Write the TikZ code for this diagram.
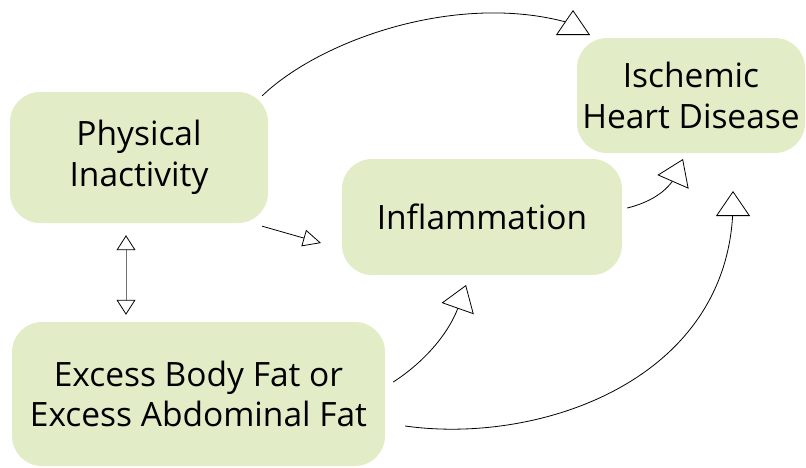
\documentclass[tikz,border=0pt]{standalone}
\usepackage{fontspec}
\setmainfont{Open Sans}
\usetikzlibrary{arrows.meta,calc}
\definecolor{boxgreen}{RGB}{226,237,199}
\begin{document}
\begin{tikzpicture}[x=1pt,y=-1pt,
  box/.style={rectangle, rounded corners=30pt, fill=boxgreen, inner sep=0pt,
    align=center, font=\fontsize{33.5}{40.5}\selectfont},
  conn/.style={line width=0.8pt, black},
  bigtip/.style={-{Triangle[length=25pt,width=34pt,fill=white,line width=0.8pt]}},
  smalltip/.style={-{Triangle[length=18pt,width=17pt,fill=white,line width=0.8pt]}},
  dbltip/.style={{Triangle[length=15pt,width=19pt,fill=white,color=black,line width=0.8pt]}-{Triangle[length=15pt,width=19pt,fill=white,color=black,line width=0.8pt]}}
]
\useasboundingbox (0,0) rectangle (806,467);

\node[box, minimum width=258pt, minimum height=131pt] (pi) at (139,157.5) {Physical\\Inactivity};
\node[box, minimum width=228pt, minimum height=115pt] (ihd) at (691,95.5) {Ischemic\\Heart Disease};
\node[box, minimum width=280pt, minimum height=116pt] (infl) at (482,217) {Inflammation};
\node[box, minimum width=373pt, minimum height=144pt] (ebf) at (198.5,394) {Excess Body Fat or\\Excess Abdominal Fat};

% named free ends (arrow apexes)
\coordinate (c1) at (573,10);
\coordinate (c2) at (321,243);
\coordinate (c4) at (683,159);
\coordinate (c5) at (466,285);
\coordinate (c6) at (733,191);

% 1 PI -> IHD
\draw[conn, bigtip] ([shift={(-6,4)}]pi.north east)
  .. controls (320,40) and (460,-10) .. (573,24) -- (c1);
% 2 PI -> Inflammation
\draw[conn, smalltip] ([shift={(-6,3)}]pi.south east) -- (c2);
% 3 PI <-> EBF
\draw[line width=0.8pt, black!55, dbltip] ([shift={(-13,12)}]pi.south) -- ([shift={(-72.5,-7)}]ebf.north);
% 4 Inflammation -> IHD
\draw[conn, bigtip] ([shift={(5,-9)}]infl.east)
  .. controls (648,203) and (668,192) .. (676,175) -- (c4);
% 5 EBF -> Inflammation
\draw[conn, bigtip] ([shift={(8,-12)}]ebf.east)
  .. controls (420,365) and (450,335) .. (460,302) -- (c5);
% 6 EBF -> IHD
\draw[conn, bigtip] ([shift={(20,32)}]ebf.east)
  .. controls (540,445) and (730,380) .. (733,206) -- (c6);
\end{tikzpicture}
\end{document}
